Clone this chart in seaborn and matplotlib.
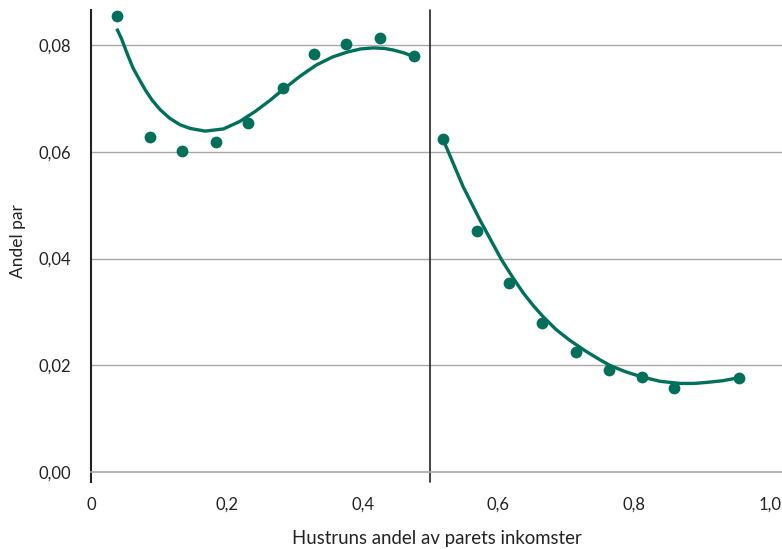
import pandas as pd
import matplotlib.pyplot as plt
import seaborn as sns

# andel par etter hustruns andel av parets inntekt (punkter)
x_left = [0.038, 0.087, 0.134, 0.184, 0.231, 0.283, 0.328, 0.376, 0.426, 0.476]
y_left = [0.0854, 0.0628, 0.0601, 0.0618, 0.0654, 0.0719, 0.0783, 0.0802, 0.0813, 0.0779]
x_right = [0.518, 0.568, 0.616, 0.664, 0.714, 0.763, 0.811, 0.859, 0.954]
y_right = [0.0624, 0.0452, 0.0354, 0.0279, 0.0225, 0.0191, 0.0178, 0.0157, 0.0176]

# tilpassede kurver, lest av figuren
fit_x_left = [0.038, 0.045, 0.053, 0.062, 0.072, 0.080, 0.090, 0.102, 0.116, 0.131,
              0.146, 0.168, 0.195, 0.219, 0.242, 0.264, 0.283, 0.308, 0.332, 0.356,
              0.377, 0.397, 0.416, 0.432, 0.445, 0.460, 0.475]
fit_y_left = [0.0831, 0.0812, 0.0785, 0.0757, 0.0734, 0.0716, 0.0697, 0.0679, 0.0663, 0.0651,
              0.0644, 0.0639, 0.0643, 0.0657, 0.0676, 0.0697, 0.0717, 0.0742, 0.0763, 0.0778,
              0.0787, 0.0793, 0.0795, 0.0794, 0.0791, 0.0786, 0.0779]
fit_x_right = [0.519, 0.530, 0.548, 0.573, 0.590, 0.605, 0.621, 0.637, 0.652, 0.666,
               0.685, 0.705, 0.728, 0.750, 0.764, 0.785, 0.809, 0.838, 0.868, 0.888,
               0.907, 0.930, 0.951]
fit_y_right = [0.0622, 0.0589, 0.0535, 0.0472, 0.0432, 0.0397, 0.0365, 0.0335, 0.0311, 0.0291,
               0.0267, 0.0247, 0.0227, 0.0210, 0.0200, 0.0189, 0.0179, 0.0170, 0.0166, 0.0166,
               0.0168, 0.0171, 0.0176]

xticks = [0, 0.2, 0.4, 0.6, 0.8, 1.0]
xtick_labels = ["0", "0,2", "0,4", "0,6", "0,8", "1,0"]
yticks = [0, 0.02, 0.04, 0.06, 0.08]
ytick_labels = ["0,00", "0,02", "0,04", "0,06", "0,08"]

green = "#00705a"

sns.set_style("white")
plt.rcParams['font.family'] = ['Lato', 'DejaVu Sans']

fig = plt.figure(figsize=(7.82, 5.49), dpi=100)
ax = fig.add_axes([91 / 782, 77 / 549, 691 / 782, 462 / 549])

for fx, fy in [(fit_x_left, fit_y_left), (fit_x_right, fit_y_right)]:
    sns.lineplot(x=fx, y=fy, sort=False, ax=ax, color=green, lw=2.4, zorder=3,
                 solid_joinstyle='round', solid_capstyle='butt')
for px, py in [(x_left, y_left), (x_right, y_right)]:
    sns.scatterplot(x=px, y=py, ax=ax, color=green, s=72, linewidth=0, zorder=4)

ax.set_xlim(0, 1.0177)
ax.set_ylim(0, 0.0866)
ax.set_yticks(yticks)
ax.set_yticklabels(ytick_labels, fontsize=12, color='#222222')
ax.set_xticks(xticks)
ax.set_xticklabels(xtick_labels, fontsize=12, color='#222222')

for yv in yticks[1:]:
    ax.axhline(yv, color='#a8a8a8', lw=1, zorder=1)
ax.axvline(0.5, ymin=-0.022, ymax=1, color='#222222', lw=1.2, clip_on=False, zorder=2)

for s in ['top', 'right']:
    ax.spines[s].set_visible(False)
ax.spines['left'].set_color('#222222')
ax.spines['left'].set_linewidth(1.5)
ax.spines['left'].set_bounds(-0.0019, 0.0866)
ax.spines['bottom'].set_color('#a8a8a8')
ax.spines['bottom'].set_linewidth(1.2)

ax.tick_params(axis='y', length=8, width=1.2, color='#222222', pad=6)
ax.tick_params(axis='x', length=8, width=1.2, color='#777777', pad=10)

ax.set_xlabel('Hustruns andel av parets inkomster', fontsize=13.4, color='#222222', labelpad=12)
ax.set_ylabel('Andel par', fontsize=12.5, color='#222222', labelpad=9)

plt.savefig('out.png', dpi=100)
